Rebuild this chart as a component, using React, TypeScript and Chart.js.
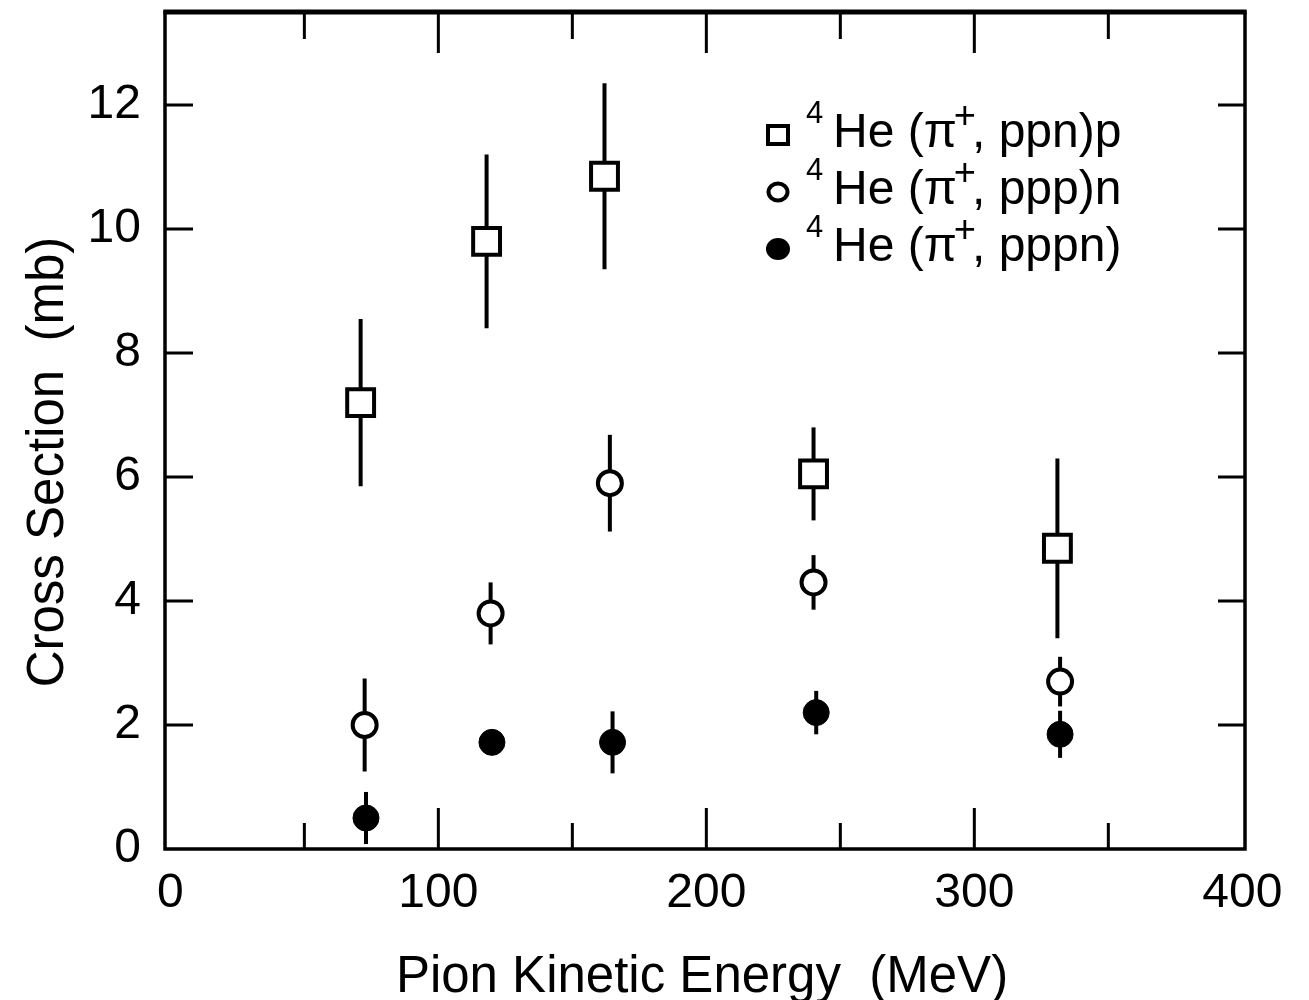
import React, { useEffect, useRef } from "react";
import { Chart, registerables } from "chart.js";

Chart.register(...registerables);

// 4He(pi+, ppn)p
const energyPpnP = [71, 118, 162, 240, 331];
const sigmaPpnP = [7.2, 9.8, 10.85, 6.05, 4.85];
const errPpnP = [1.35, 1.4, 1.5, 0.75, 1.45];

// 4He(pi+, ppp)n
const energyPppN = [72.5, 119.5, 164, 240, 332];
const sigmaPppN = [2.0, 3.8, 5.9, 4.3, 2.7];
const errPppN = [0.75, 0.5, 0.78, 0.44, 0.4];

// 4He(pi+, pppn)
const energyPppn = [73, 120, 165, 241, 332];
const sigmaPppn = [0.5, 1.72, 1.72, 2.2, 1.85];
const errPppn = [0.42, 0.18, 0.5, 0.35, 0.38];

const xTickValues = [0, 100, 200, 300, 400];
const xMinorValues = [50, 150, 250, 350];
const yTickValues = [0, 2, 4, 6, 8, 10, 12];

const legendLabels = [
  { pre: "He (π", post: ", ppn)p" },
  { pre: "He (π", post: ", ppp)n" },
  { pre: "He (π", post: ", pppn)" },
];

const FONT = '"Liberation Sans", Arial, Helvetica, sans-serif';
const INK = "#000";
// the canvas sits slightly above the page top so the frame hugs the upper edge
const SHIFT = 11;

const toPoints = (xs: number[], ys: number[]) => xs.map((v, i) => ({ x: v, y: ys[i] }));

const errorBarsPlugin = {
  id: "errorBars",
  beforeDatasetsDraw(chart: any) {
    const { ctx, scales } = chart;
    const xs = scales.x;
    const ys = scales.y;
    ctx.save();
    ctx.strokeStyle = INK;
    ctx.lineWidth = 4;
    ctx.lineCap = "butt";
    chart.data.datasets.forEach((ds: any) => {
      const errs: number[] = ds.errors || [];
      ds.data.forEach((p: any, j: number) => {
        const e = errs[j] || 0;
        const px = xs.getPixelForValue(p.x);
        ctx.beginPath();
        ctx.moveTo(px, ys.getPixelForValue(p.y - e));
        ctx.lineTo(px, ys.getPixelForValue(p.y + e));
        ctx.stroke();
      });
    });
    ctx.restore();
  },
};

const framePlugin = {
  id: "frameTicks",
  beforeDatasetsDraw(chart: any) {
    const { ctx, chartArea, scales } = chart;
    const { left, right, top, bottom } = chartArea;
    const xs = scales.x;
    const ys = scales.y;
    ctx.save();
    ctx.strokeStyle = INK;
    ctx.lineWidth = 3;
    ctx.beginPath();
    // inward ticks on all four sides
    xTickValues.forEach((v) => {
      const px = xs.getPixelForValue(v);
      if (px <= left + 8 || px >= right - 8) return;
      ctx.moveTo(px, bottom);
      ctx.lineTo(px, bottom - 41);
      ctx.moveTo(px, top);
      ctx.lineTo(px, top + 41);
    });
    xMinorValues.forEach((v) => {
      const px = xs.getPixelForValue(v);
      ctx.moveTo(px, bottom);
      ctx.lineTo(px, bottom - 26);
      ctx.moveTo(px, top);
      ctx.lineTo(px, top + 27);
    });
    yTickValues.forEach((v) => {
      const py = ys.getPixelForValue(v);
      if (py >= bottom - 2 || py <= top + 2) return;
      ctx.moveTo(left, py);
      ctx.lineTo(left + 28, py);
      ctx.moveTo(right, py);
      ctx.lineTo(right - 27, py);
    });
    ctx.stroke();
    // plot frame
    ctx.lineWidth = 3.5;
    ctx.strokeRect(left, top, right - left, bottom - top);
    ctx.lineWidth = 5;
    ctx.beginPath();
    ctx.moveTo(left - 1.5, top);
    ctx.lineTo(right + 1.5, top);
    ctx.stroke();
    ctx.restore();
  },
  afterDraw(chart: any) {
    const { ctx } = chart;
    ctx.save();
    ctx.fillStyle = INK;
    // axis titles
    ctx.font = `51px ${FONT}`;
    ctx.textAlign = "center";
    ctx.textBaseline = "alphabetic";
    ctx.fillText("Pion Kinetic Energy  (MeV)", 702, 992 + SHIFT);
    ctx.translate(63, 462 + SHIFT);
    ctx.rotate(-Math.PI / 2);
    ctx.fillText("Cross Section  (mb)", 0, 0);
    ctx.restore();
  },
};

const legendPlugin = {
  id: "formulaLegend",
  afterDraw(chart: any) {
    const { ctx } = chart;
    const markerX = 778;
    const rows = [135, 192, 249].map((v) => v + SHIFT);
    const baselines = [147, 204, 261].map((v) => v + SHIFT);
    ctx.save();
    ctx.strokeStyle = INK;
    ctx.fillStyle = INK;
    ctx.lineWidth = 4;
    // markers
    ctx.fillStyle = "#fff";
    ctx.fillRect(markerX - 10, rows[0] - 9, 20, 18);
    ctx.strokeRect(markerX - 10, rows[0] - 9, 20, 18);
    ctx.beginPath();
    ctx.ellipse(markerX, rows[1], 9.5, 8.5, 0, 0, Math.PI * 2);
    ctx.fill();
    ctx.stroke();
    ctx.fillStyle = INK;
    ctx.beginPath();
    ctx.ellipse(markerX, rows[2], 12, 11, 0, 0, Math.PI * 2);
    ctx.fill();
    // formula text
    ctx.textAlign = "left";
    ctx.textBaseline = "alphabetic";
    legendLabels.forEach((lab, i) => {
      const b = baselines[i];
      ctx.font = `31px ${FONT}`;
      ctx.fillText("4", 806, b - 24);
      ctx.font = `48px ${FONT}`;
      let x = 833;
      ctx.fillText(lab.pre, x, b);
      x += ctx.measureText(lab.pre).width - 3;
      ctx.font = `38px ${FONT}`;
      ctx.fillText("+", x, b - 19);
      x += ctx.measureText("+").width - 4;
      ctx.font = `48px ${FONT}`;
      ctx.fillText(lab.post, x, b);
    });
    ctx.restore();
  },
};

export default function App() {
  const canvasRef = useRef<HTMLCanvasElement | null>(null);

  useEffect(() => {
    const canvas = canvasRef.current;
    if (!canvas) return;
    const chart = new Chart(canvas, {
      type: "scatter",
      data: {
        datasets: [
          {
            label: "4He(π+, ppn)p",
            data: toPoints(energyPpnP, sigmaPpnP),
            errors: errPpnP,
            pointStyle: "rect",
            pointRadius: 19,
            pointBackgroundColor: "#fff",
            pointBorderColor: INK,
            pointBorderWidth: 4,
            showLine: false,
          } as any,
          {
            label: "4He(π+, ppp)n",
            data: toPoints(energyPppN, sigmaPppN),
            errors: errPppN,
            pointStyle: "circle",
            pointRadius: 12,
            pointBackgroundColor: "#fff",
            pointBorderColor: INK,
            pointBorderWidth: 4,
            showLine: false,
          } as any,
          {
            label: "4He(π+, pppn)",
            data: toPoints(energyPppn, sigmaPppn),
            errors: errPppn,
            pointStyle: "circle",
            pointRadius: 13,
            pointBackgroundColor: INK,
            pointBorderColor: INK,
            pointBorderWidth: 1,
            showLine: false,
          } as any,
        ],
      },
      options: {
        animation: false,
        responsive: true,
        maintainAspectRatio: false,
        layout: { padding: { top: 0, right: 64, left: 0, bottom: 0 } },
        plugins: {
          legend: { display: false },
          tooltip: { enabled: false },
        },
        scales: {
          x: {
            type: "linear",
            min: -2,
            max: 401,
            grid: { display: false },
            border: { display: false },
            ticks: {
              color: INK,
              font: { family: FONT, size: 48 },
              padding: 8,
              maxRotation: 0,
            },
            afterBuildTicks: (scale: any) => {
              scale.ticks = xTickValues.map((v) => ({ value: v }));
            },
            afterFit: (scale: any) => {
              scale.height = 151;
              scale.paddingLeft = 0;
              scale.paddingRight = 0;
            },
          },
          y: {
            type: "linear",
            min: 0,
            max: 13.5,
            grid: { display: false },
            border: { display: false },
            ticks: {
              color: INK,
              font: { family: FONT, size: 48 },
              padding: 16,
            },
            afterBuildTicks: (scale: any) => {
              scale.ticks = yTickValues.map((v) => ({ value: v }));
            },
            afterFit: (scale: any) => {
              scale.width = 165;
              scale.paddingTop = 0;
              scale.paddingBottom = 0;
            },
          },
        },
      },
      plugins: [errorBarsPlugin, framePlugin, legendPlugin],
    });
    return () => chart.destroy();
  }, []);

  return (
    <div
      style={{
        position: "absolute",
        left: 0,
        top: -SHIFT,
        width: 1309,
        height: 1000 + SHIFT,
        background: "#fff",
      }}
    >
      <canvas ref={canvasRef} />
    </div>
  );
}
